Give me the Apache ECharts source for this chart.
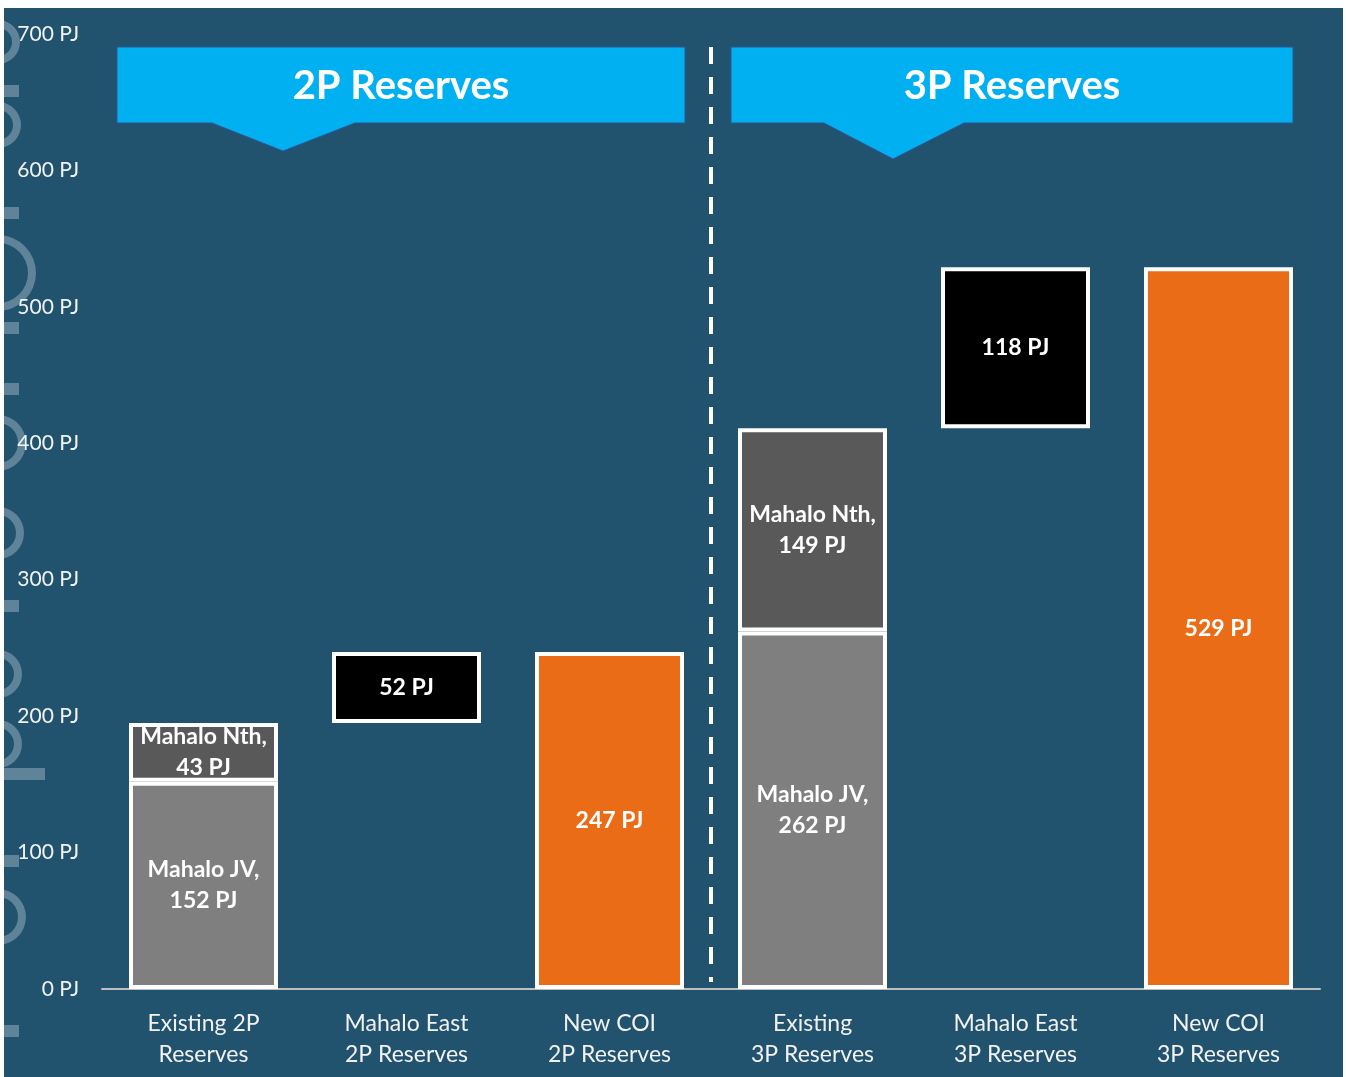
<!DOCTYPE html>
<html>
<head>
<meta charset="utf-8">
<script src="https://cdn.jsdelivr.net/npm/echarts@6/dist/echarts.min.js"></script>
<style>
  html, body { margin: 0; padding: 0; background: #fff; }
  #chart { position: absolute; left: 4px; top: 8px; width: 1339px; height: 1069px; }
</style>
</head>
<body>
<div id="chart"></div>
<script>
// categories along the x axis
const categories = [
  'Existing 2P\nReserves', 'Mahalo East\n2P Reserves', 'New COI\n2P Reserves',
  'Existing\n3P Reserves', 'Mahalo East\n3P Reserves', 'New COI\n3P Reserves'
];
// segment values (PJ), '-' = no bar
const mahaloJV   = [152, '-', '-', 262, '-', '-'];
const mahaloNth  = [43,  '-', '-', 149, '-', '-'];
const mahaloEast = ['-', 52,  '-', '-', 118, '-'];
const newCOI     = ['-', '-', 247, '-', '-', 529];
const yTicks = { min: 0, max: 700, interval: 100 };

const num = v => (v === '-' ? 0 : v);
// floating base for the increment bars = total of the bar before
const base = categories.map((c, i) => {
  if (mahaloEast[i] === '-') return '-';
  return num(mahaloJV[i - 1]) + num(mahaloNth[i - 1]);
});

const FONT = 'Lato, "Open Sans", sans-serif';
const BORDER = {borderColor: '#fff', borderWidth: 4};
const inLabel = (fmt) => ({
  show: true, position: 'inside', color: '#fff', fontFamily: FONT,
  fontWeight: 'bold', fontSize: 23, lineHeight: 31, formatter: fmt
});

const chart = echarts.init(document.getElementById('chart'));

// faint watermark on the left edge
const wmColor = 'rgba(190,205,215,0.4)';
const ring = (cy, r) => ({type: 'ring', shape: {cx: -6, cy: cy, r: r, r0: r - 8}, style: {fill: wmColor}, silent: true});
const bar = (y, w) => ({type: 'rect', shape: {x: -4, y: y, width: w, height: 12}, style: {fill: wmColor}, silent: true});
const watermark = [
  ring(34, 22), bar(77, 19), ring(117, 23), bar(199, 19), ring(265, 38), bar(314, 19),
  bar(375, 19), ring(435, 28), ring(525, 26), bar(592, 19), ring(666, 24), ring(736, 24),
  bar(760, 45), bar(847, 19), ring(909, 28), bar(1017, 19)
];

chart.setOption({
  backgroundColor: '#21536f',
  animation: false,
  grid: {left: 98, right: 23, top: 26, bottom: 88},
  xAxis: {
    type: 'category',
    data: categories,
    axisLine: {lineStyle: {color: '#bfbfbf', width: 2}},
    axisTick: {show: false},
    axisLabel: {color: '#f2f2f2', fontFamily: FONT, fontSize: 23, lineHeight: 31, margin: 19, interval: 0}
  },
  yAxis: {
    type: 'value',
    min: yTicks.min, max: yTicks.max, interval: yTicks.interval,
    splitLine: {show: false},
    axisLine: {show: false},
    axisTick: {show: false},
    axisLabel: {color: '#f2f2f2', fontFamily: FONT, fontSize: 21, margin: 23, formatter: '{value} PJ'}
  },
  series: [
    {name: 'base', type: 'bar', stack: 'total', barWidth: 149, data: base,
      itemStyle: {color: 'transparent'}, silent: true},
    {name: 'Mahalo JV', type: 'bar', stack: 'total', data: mahaloJV,
      itemStyle: {color: '#7f7f7f', ...BORDER}, label: inLabel('{a},\n{c} PJ')},
    {name: 'Mahalo Nth', type: 'bar', stack: 'total', data: mahaloNth,
      itemStyle: {color: '#595959', ...BORDER}, label: inLabel('{a},\n{c} PJ')},
    {name: 'Mahalo East', type: 'bar', stack: 'total', data: mahaloEast,
      itemStyle: {color: '#000', ...BORDER}, label: inLabel('{c} PJ')},
    {name: 'New COI', type: 'bar', stack: 'total', data: newCOI,
      itemStyle: {color: '#eb6c17', ...BORDER}, label: inLabel('{c} PJ')}
  ]
});

// annotations placed from the category boundaries
const step = chart.convertToPixel({xAxisIndex: 0}, categories[1]) - chart.convertToPixel({xAxisIndex: 0}, categories[0]);
const x0 = chart.convertToPixel({xAxisIndex: 0}, categories[0]) - step / 2;
const split = x0 + step * 3;
const yTop = chart.convertToPixel({yAxisIndex: 0}, yTicks.max);

function banner(left, right, pL, pTip, pR, tipY, text) {
  const top = yTop + 13, bot = yTop + 89;
  return [
    {type: 'polygon', silent: true,
      shape: {points: [[left, top], [right, top], [right, bot], [pR, bot], [pTip, tipY], [pL, bot], [left, bot]]},
      style: {fill: '#00b0f0', stroke: '#2f5597', lineWidth: 1}},
    {type: 'text', silent: true, x: (left + right) / 2, y: (top + bot) / 2 + 1,
      style: {text: text, fill: '#fff', font: 'bold 40px ' + FONT, align: 'center', verticalAlign: 'middle'}}
  ];
}

chart.setOption({
  graphic: [
    ...watermark,
    {type: 'line', silent: true,
      shape: {x1: split, y1: yTop + 13, x2: split, y2: chart.convertToPixel({yAxisIndex: 0}, 0) - 7},
      style: {stroke: '#fff', lineWidth: 4, lineDash: [17, 13]}},
    ...banner(x0 + 15, split - 26, x0 + 110, x0 + 181, x0 + 253, yTop + 117, '2P Reserves'),
    ...banner(split + 20, x0 + step * 6 - 27, split + 113, split + 182, split + 253, yTop + 125, '3P Reserves')
  ]
});
</script>
</body>
</html>
